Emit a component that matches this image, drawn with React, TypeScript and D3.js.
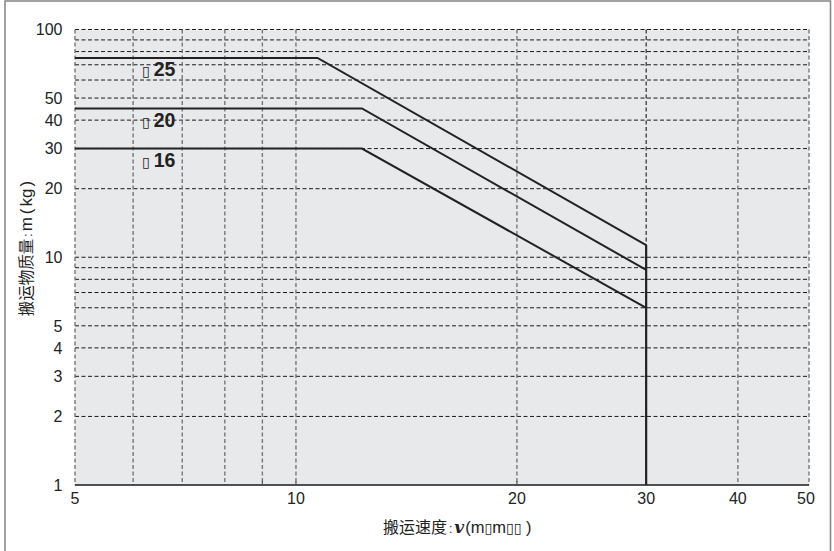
import React from "react";
import * as d3 from "d3";

const xTicks = [5, 10, 20, 30, 40, 50];
const yTicks = [1, 2, 3, 4, 5, 10, 20, 30, 40, 50, 100];
const xGrid = [6, 7, 8, 9, 10, 20, 30, 40, 50];
const yGrid = [2, 3, 4, 5, 6, 7, 8, 9, 10, 20, 30, 40, 50, 60, 70, 80, 90, 100];

const seriesNames = ["▯25", "▯20", "▯16"];
const series25 = [[5, 75], [10.7, 75], [30, 11.3]];
const series20 = [[5, 45], [12.3, 45], [30, 8.8]];
const series16 = [[5, 30], [12.3, 30], [30, 6.0]];
const limitLine = [[30, 11.3], [30, 1]];
const labelPos = [[6.17, 62.2], [6.17, 37.3], [6.17, 24.9]];

export default function App() {
  const W = 834, H = 551;
  const left = 75, right = 809, top = 29.5, bottom = 485;
  const x = d3.scaleLog().domain([5, 50]).range([left, right]);
  const y = d3.scaleLog().domain([1, 100]).range([bottom, top]);
  const line = d3.line<number[]>().x(d => x(d[0])).y(d => y(d[1]));
  const font = "'Liberation Sans', Arial, Helvetica, sans-serif";
  const cjk = "'Noto Sans CJK SC', sans-serif";
  const boxFont = "'DejaVu Sans', sans-serif";
  const all = [series25, series20, series16];
  return (
    <svg width={W} height={H} style={{ position: "absolute", left: 0, top: 0, background: "#fff" }}>
      <rect x={5} y={1} width={825.5} height={H + 10} fill="none" stroke="#8a8a8a" strokeWidth={1.6} />
      <rect x={left} y={top} width={right - left} height={bottom - top} fill="#e8e9eb" />
      {yGrid.map(v => (
        <line key={"h" + v} x1={left} x2={right} y1={y(v)} y2={y(v)} stroke="#1a1a1a" strokeWidth={1} strokeDasharray="4,2.5" />
      ))}
      <line x1={left} x2={left} y1={top} y2={bottom} stroke="#777" strokeWidth={1.4} strokeDasharray="4,2.5" />
      {xGrid.map(v => (
        <line key={"v" + v} x1={x(v)} x2={x(v)} y1={top} y2={bottom}
          stroke={v === 30 ? "#1a1a1a" : "#777"} strokeWidth={v === 30 ? 1.1 : 1.4} strokeDasharray="4,2.5" />
      ))}
      <line x1={left} x2={right} y1={bottom} y2={bottom} stroke="#1a1a1a" strokeWidth={1.5} />
      {[9, 10, 20].map(v => (
        <line key={"t" + v} x1={x(v)} x2={x(v)} y1={bottom} y2={bottom - 4} stroke="#555" strokeWidth={1.2} />
      ))}
      {all.map((s, i) => (
        <path key={"s" + i} d={line(s) || ""} fill="none" stroke="#222" strokeWidth={2} />
      ))}
      <path d={line(limitLine) || ""} fill="none" stroke="#222" strokeWidth={2.2} />
      {seriesNames.map((n, i) => (
        <text key={"l" + i} x={x(labelPos[i][0])} y={y(labelPos[i][1])} fontFamily={font} fontSize={19.5} fontWeight="bold" fill="#222">
          <tspan fontFamily={boxFont} fontSize={14} fontWeight="normal" dy={-0.5}>{n.slice(0, 1)}</tspan>
          <tspan dx={4} dy={0.5}>{n.slice(1)}</tspan>
        </text>
      ))}
      {yTicks.map(v => (
        <text key={"yt" + v} x={62.5} y={y(v)} dy="0.36em" textAnchor="end" fontFamily={font} fontSize={16} fill="#222">{v}</text>
      ))}
      {xTicks.map(v => (
        <text key={"xt" + v} x={x(v) + (v === 50 ? -3 : 0)} y={bottom + 19} textAnchor="middle" fontFamily={font} fontSize={16} fill="#222">{v}</text>
      ))}
      <text x={383} y={533} fontFamily={font} fontSize={16.5} fill="#222">
        <tspan fontFamily={cjk} fontSize={16}>搬运速度</tspan>
        <tspan fontSize={12} dx={2}>:</tspan>
        <tspan fontFamily="'DejaVu Serif', serif" fontStyle="italic" fontWeight="bold" fontSize={17} dx={2}>v</tspan>
        <tspan dx={1}>(m</tspan>
        <tspan fontFamily={boxFont} fontSize={14}>▯</tspan>
        <tspan>m</tspan>
        <tspan fontFamily={boxFont} fontSize={14}>▯▯</tspan>
        <tspan> )</tspan>
      </text>
      <text transform={`translate(32,248.5) rotate(-90)`} textAnchor="middle" fontFamily={font} fontSize={17} fill="#222">
        <tspan fontFamily={cjk} fontSize={15.5}>搬运物质量</tspan>
        <tspan fontSize={12} dx={2}>:</tspan>
        <tspan dx={2}>m</tspan>
        <tspan dx={3}>(</tspan>
        <tspan dx={2}>kg</tspan>
        <tspan dx={2}>)</tspan>
      </text>
    </svg>
  );
}
